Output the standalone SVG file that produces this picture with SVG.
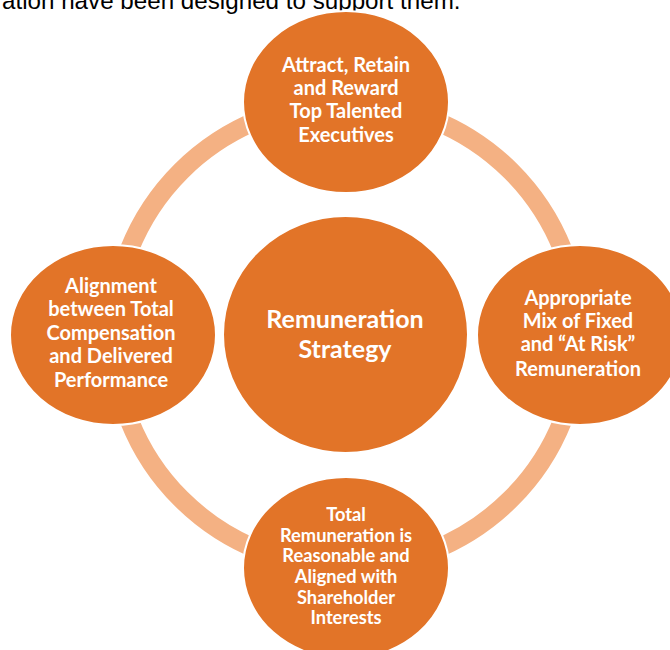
<svg xmlns="http://www.w3.org/2000/svg" width="670" height="650" viewBox="0 0 670 650">
<style>
.node{fill:#E27428;stroke:#FFFFFF;stroke-width:2}
.t{font-family:Lato,"Open Sans","Liberation Sans",sans-serif;font-weight:bold;fill:#FFFFFF;text-anchor:middle}
.s{font-size:20px}
.b{font-size:18.3px}
.c{font-size:25px}
.ring{fill:none;stroke:#F4B183;stroke-width:19}
</style>
<rect width="670" height="650" fill="#FFFFFF"/>
<text x="2" y="8.5" font-family="'Liberation Sans',Arial,sans-serif" font-size="24.2" fill="#000000">ation have been designed to support them.</text>
<g id="connectors">
<ellipse class="ring" cx="346" cy="335" rx="233" ry="232"/>
</g>
<g id="center">
<ellipse class="node" cx="345.5" cy="334.5" rx="122.5" ry="118.5"/>
<text class="t c" x="345" y="328">Remuneration</text>
<text class="t c" x="345" y="358">Strategy</text>
</g>
<g id="top">
<ellipse class="node" cx="346" cy="102" rx="103" ry="91"/>
<text class="t s" x="346" y="72">Attract, Retain</text>
<text class="t s" x="346" y="95">and Reward</text>
<text class="t s" x="346" y="118">Top Talented</text>
<text class="t s" x="346" y="142">Executives</text>
</g>
<g id="left">
<ellipse class="node" cx="113" cy="335" rx="103" ry="90"/>
<text class="t s" x="111" y="293">Alignment</text>
<text class="t s" x="111" y="316">between Total</text>
<text class="t s" x="111" y="340">Compensation</text>
<text class="t s" x="111" y="363">and Delivered</text>
<text class="t s" x="111" y="387">Performance</text>
</g>
<g id="right">
<ellipse class="node" cx="580" cy="335" rx="103" ry="90"/>
<text class="t s" x="578" y="305">Appropriate</text>
<text class="t s" x="578" y="328">Mix of Fixed</text>
<text class="t s" x="578" y="351">and “At Risk”</text>
<text class="t s" x="578" y="376">Remuneration</text>
</g>
<g id="bottom">
<ellipse class="node" cx="346" cy="568" rx="103" ry="91"/>
<text class="t b" x="346" y="521">Total</text>
<text class="t b" x="346" y="542">Remuneration is</text>
<text class="t b" x="346" y="562">Reasonable and</text>
<text class="t b" x="346" y="583">Aligned with</text>
<text class="t b" x="346" y="604">Shareholder</text>
<text class="t b" x="346" y="624">Interests</text>
</g>
</svg>
